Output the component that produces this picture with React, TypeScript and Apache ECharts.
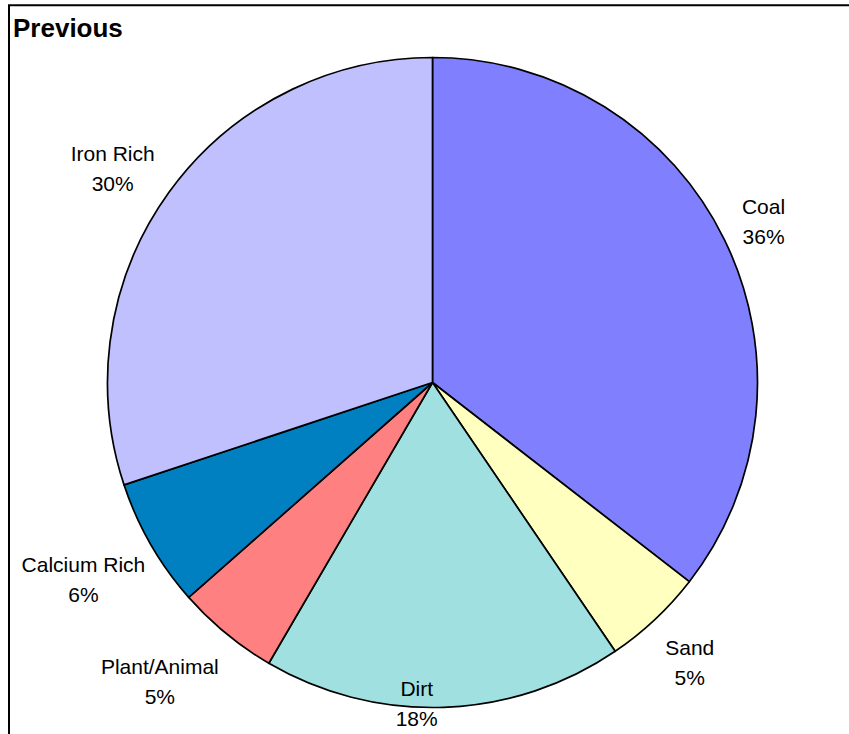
import React, { useEffect, useRef } from "react";
import * as echarts from "echarts";

const TITLE = "Previous";
const CATEGORIES = ["Coal", "Sand", "Dirt", "Plant/Animal", "Calcium Rich", "Iron Rich"];
const VALUES = [35.5, 5.0, 17.9, 5.1, 6.4, 30.1];
const COLORS = ["#8080FF", "#FFFFC0", "#A0E0E0", "#FF8080", "#0080C0", "#C0C0FF"];

// label placement (layout only): distance from pie centre and small angular nudge (deg)
const LABEL_RADIUS = [368, 380, 321, 405, 401, 385];
const LABEL_ANGLE_SHIFT = [0.2, 0.6, 4.8, 2.9, 0.4, -2.0];

const CX = 432.5;
const CY = 382.5;
const R = 325;

export default function App() {
  const ref = useRef<HTMLDivElement>(null);
  useEffect(() => {
    if (!ref.current) return;
    const chart = echarts.init(ref.current, undefined, { renderer: "svg" });
    const total = VALUES.reduce((a, b) => a + b, 0);
    const mids: number[] = [];
    let acc = 0;
    VALUES.forEach((v) => {
      mids.push(((acc + v / 2) / total) * 360);
      acc += v;
    });
    chart.setOption({
      animation: false,
      backgroundColor: "#ffffff",
      graphic: [
        {
          type: "rect",
          shape: { x: 9, y: 5.3, width: 1000, height: 1000 },
          style: { fill: "none", stroke: "#000", lineWidth: 2 },
          silent: true,
        },
        {
          type: "text",
          x: 13,
          y: 15,
          style: {
            text: TITLE,
            font: "bold 26px 'Liberation Sans', Arial, sans-serif",
            fill: "#000",
          },
        },
      ],
      series: [
        {
          type: "pie",
          center: [CX, CY],
          radius: R,
          startAngle: 90,
          clockwise: true,
          avoidLabelOverlap: false,
          emphasis: { disabled: true },
          itemStyle: { borderColor: "#000", borderWidth: 1.7 },
          label: {
            show: true,
            position: "outside",
            formatter: (p: any) => `${p.name}\n${Math.round(p.percent)}%`,
            fontFamily: "'Liberation Sans', Arial, sans-serif",
            fontSize: 21,
            lineHeight: 30,
            color: "#000",
            align: "center",
          },
          labelLine: { show: false },
          labelLayout: (params: any) => {
            const i = params.dataIndex;
            const a = ((mids[i] + LABEL_ANGLE_SHIFT[i]) * Math.PI) / 180;
            const r = LABEL_RADIUS[i];
            return {
              x: CX + r * Math.sin(a),
              y: CY - r * Math.cos(a),
              align: "center",
              verticalAlign: "middle",
            };
          },
          data: CATEGORIES.map((name, i) => ({
            name,
            value: VALUES[i],
            itemStyle: { color: COLORS[i] },
          })),
        },
      ],
    });
    return () => chart.dispose();
  }, []);
  return (
    <div
      ref={ref}
      style={{ position: "fixed", left: 0, top: 0, width: 849, height: 734 }}
    />
  );
}
